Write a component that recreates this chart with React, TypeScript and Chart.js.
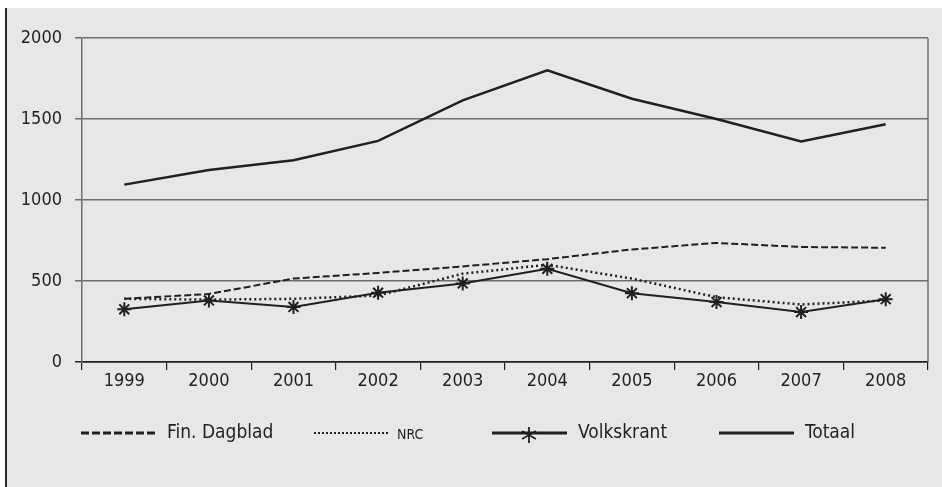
import React, { useEffect, useRef } from 'react';
import { Chart, registerables } from 'chart.js';

Chart.register(...registerables);

const years = ['1999', '2000', '2001', '2002', '2003', '2004', '2005', '2006', '2007', '2008'];
const finDagblad = [390, 420, 515, 550, 590, 635, 695, 735, 710, 705];
const nrc = [390, 385, 390, 410, 545, 600, 515, 400, 355, 380];
const volkskrant = [325, 380, 340, 428, 485, 575, 425, 370, 308, 388];
const totaal = [1095, 1185, 1245, 1365, 1615, 1800, 1625, 1500, 1362, 1468];
const seriesLabels = ['Fin. Dagblad', 'NRC', 'Volkskrant', 'Totaal'];

const FONT = "'DejaVu Sans Condensed', 'Open Sans', sans-serif";
const INK = '#231f20';
const legendX = [74, 307, 485, 712];
const legendDash: number[][] = [[8, 3], [2, 2], [], []];

export default function App() {
  const ref = useRef<HTMLCanvasElement>(null);

  useEffect(() => {
    const canvas = ref.current;
    if (!canvas) return;

    const extras = {
      id: 'extras',
      afterDraw(chart: any) {
        const { ctx, chartArea } = chart;
        ctx.save();
        // right frame line
        ctx.strokeStyle = '#6d6e70';
        ctx.lineWidth = 1.5;
        ctx.beginPath();
        ctx.moveTo(chartArea.right, chartArea.top);
        ctx.lineTo(chartArea.right, chartArea.bottom);
        ctx.stroke();

        // legend
        const y = 425;
        chart.data.datasets.forEach((ds: any, i: number) => {
          const x0 = legendX[i];
          ctx.strokeStyle = INK;
          ctx.lineWidth = i === 1 ? 2 : 3;
          ctx.setLineDash(legendDash[i]);
          ctx.beginPath();
          ctx.moveTo(x0, y);
          ctx.lineTo(x0 + 75, y);
          ctx.stroke();
          ctx.setLineDash([]);
          if (ds.pointStyle === 'star') {
            const cx = x0 + 37;
            const r = 8;
            ctx.lineWidth = 1.8;
            ctx.beginPath();
            for (const a of [90, 30, 150]) {
              const rad = (a * Math.PI) / 180;
              ctx.moveTo(cx - Math.cos(rad) * r, y - Math.sin(rad) * r + 2);
              ctx.lineTo(cx + Math.cos(rad) * r, y + Math.sin(rad) * r + 2);
            }
            ctx.stroke();
          }
          ctx.fillStyle = INK;
          ctx.textBaseline = 'middle';
          ctx.textAlign = 'left';
          if (ds.label === 'NRC') {
            ctx.font = `14px ${FONT}`;
            ctx.fillText(ds.label, x0 + 83, y + 2);
          } else {
            ctx.font = `19px ${FONT}`;
            ctx.fillText(ds.label, x0 + 86, y);
          }
        });
        ctx.restore();
      },
    };

    const chart = new Chart(canvas, {
      type: 'line',
      data: {
        labels: years,
        datasets: [
          {
            label: seriesLabels[0],
            data: finDagblad,
            borderColor: INK,
            borderWidth: 2,
            borderDash: [7, 3],
            pointRadius: 0,
            fill: false,
            tension: 0,
          },
          {
            label: seriesLabels[1],
            data: nrc,
            borderColor: INK,
            borderWidth: 2.5,
            borderDash: [2, 3],
            pointRadius: 0,
            fill: false,
            tension: 0,
          },
          {
            label: seriesLabels[2],
            data: volkskrant,
            borderColor: INK,
            borderWidth: 2,
            pointStyle: 'star',
            pointRadius: 7,
            pointBorderWidth: 2,
            pointBorderColor: INK,
            pointBackgroundColor: INK,
            fill: false,
            tension: 0,
          },
          {
            label: seriesLabels[3],
            data: totaal,
            borderColor: INK,
            borderWidth: 2.5,
            pointRadius: 0,
            fill: false,
            tension: 0,
          },
        ],
      },
      options: {
        animation: false,
        responsive: true,
        maintainAspectRatio: false,
        layout: { padding: { top: 30, right: 14, bottom: 93, left: 0 } },
        plugins: {
          legend: { display: false },
          tooltip: { enabled: false },
        },
        scales: {
          x: {
            type: 'category',
            offset: true,
            grid: {
              display: true,
              offset: true,
              drawOnChartArea: false,
              drawTicks: true,
              tickLength: 8,
              color: '#231f20',
              lineWidth: 1.2,
            },
            border: { display: true, color: '#231f20', width: 1.5 },
            ticks: {
              color: INK,
              font: { family: FONT, size: 18 },
              padding: 1,
              maxRotation: 0,
            },
            afterFit: (scale: any) => {
              scale.height = 32;
            },
          },
          y: {
            min: 0,
            max: 2000,
            ticks: {
              stepSize: 500,
              color: INK,
              font: { family: FONT, size: 18 },
              padding: 13,
              callback: (v: any) => String(v),
            },
            grid: {
              color: (c: any) => (c.tick && c.tick.value === 0 ? '#231f20' : '#6d6e70'),
              lineWidth: 1.5,
              tickLength: 7,
              drawTicks: true,
            },
            border: { display: true, color: '#6d6e70', width: 1.5 },
            afterFit: (scale: any) => {
              scale.width = 75;
            },
          },
        },
      },
      plugins: [extras],
    });

    return () => chart.destroy();
  }, []);

  return (
    <div style={{ position: 'absolute', left: 0, top: 0, width: 942, height: 487, background: '#ffffff' }}>
      <div
        style={{
          position: 'absolute',
          left: 5,
          top: 8,
          width: 935,
          height: 479,
          borderLeft: '2px solid #2b2b2b',
          background: '#e6e7e7',
        }}
      >
        <canvas ref={ref} />
      </div>
    </div>
  );
}
